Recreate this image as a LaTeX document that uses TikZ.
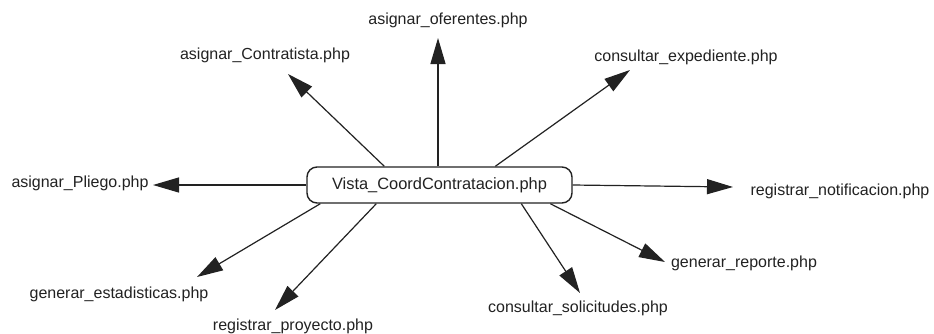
\documentclass[tikz,border=0pt]{standalone}
\usepackage{fontspec}
\setmainfont{Liberation Sans}
\usetikzlibrary{arrows.meta}
\definecolor{ink}{HTML}{222222}
\tikzset{
  lbl/.style={font=\fontsize{16}{18}\selectfont, text=ink, inner sep=0pt},
  mainbox/.style={draw=ink, line width=1.4pt, rounded corners=10pt, minimum width=265pt, minimum height=36pt, inner sep=0pt, font=\fontsize{16.4}{18}\selectfont, text=ink},
  conn/.style={draw=ink, line width=1.2pt, -{Triangle[length=26pt,width=15pt]}}
}
\begin{document}
\begin{tikzpicture}[x=1pt,y=-1pt]
\useasboundingbox[fill=white] (0,0) rectangle (934,333);
\node[mainbox] (c) at (439.5,185) {Vista\_CoordContratacion.php};
% labels
\node[lbl] (pli) at (80,183) {asignar\_Pliego.php};
\node[lbl] (con) at (265,55) {asignar\_Contratista.php};
\node[lbl] (ofe) at (448,20) {asignar\_oferentes.php};
\node[lbl] (exp) at (686,57) {consultar\_expediente.php};
\node[lbl] (not) at (840,191) {registrar\_notificacion.php};
\node[lbl] (est) at (119,294) {generar\_estadisticas.php};
\node[lbl] (pro) at (293,326) {registrar\_proyecto.php};
\node[lbl] (sol) at (578,308) {consultar\_solicitudes.php};
\node[lbl] (rep) at (744,263) {generar\_reporte.php};
% arrow tips
\coordinate (tpli) at (153,185);
\coordinate (tcon) at (288,74);
\coordinate (tofe) at (438,38);
\coordinate (texp) at (630,70);
\coordinate (tnot) at (733,187);
\coordinate (test) at (197,277);
\coordinate (tpro) at (275,310);
\coordinate (tsol) at (580,293);
\coordinate (trep) at (665,262);
% start points on the box
\coordinate (scon) at ([xshift=78pt]c.north west);
\coordinate (sofe) at ([xshift=-1.5pt]c.north);
\coordinate (sexp) at ([xshift=189pt]c.north west);
\coordinate (sest) at ([xshift=14pt]c.south west);
\coordinate (spro) at ([xshift=70pt]c.south west);
\coordinate (ssol) at ([xshift=215pt]c.south west);
\coordinate (srep) at ([xshift=244pt]c.south west);
% connectors
\draw[conn] (c.west) -- (tpli);
\draw[conn] (scon) -- (tcon);
\draw[conn] (sofe) -- (tofe);
\draw[conn] (sexp) -- (texp);
\draw[conn] (c.east) -- (tnot);
\draw[conn] (sest) -- (test);
\draw[conn] (spro) -- (tpro);
\draw[conn] (ssol) -- (tsol);
\draw[conn] (srep) -- (trep);
\end{tikzpicture}
\end{document}
